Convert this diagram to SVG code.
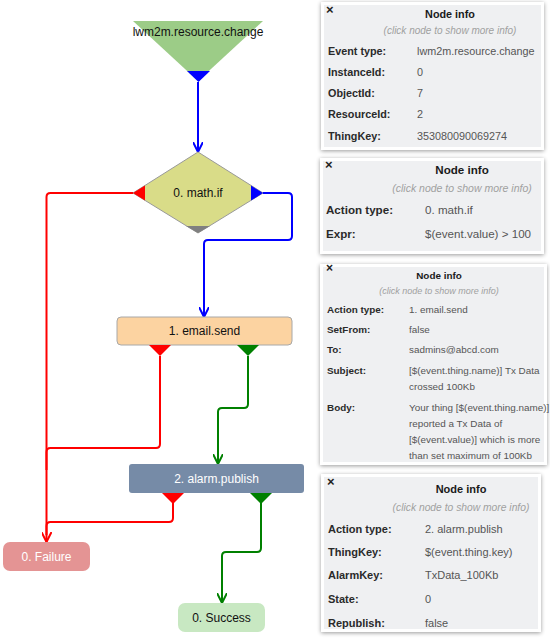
<svg xmlns="http://www.w3.org/2000/svg" width="550" height="644" viewBox="0 0 550 644">
<style>
.lbl{font-family:"Liberation Sans",Arial,sans-serif;font-size:12px;text-anchor:middle;dominant-baseline:central;fill:#111}
.wl{fill:#fff}
.edge{fill:none;stroke-width:2}
.b{stroke:#0000ff}.r{stroke:#ff0000}.g{stroke:#008000}
.panel{fill:#eff0f2;stroke:#fff;stroke-width:3}
.pt{font-family:"Liberation Sans",Arial,sans-serif;fill:#1a1a1a}
.k{font-weight:bold;fill:#2a2a2a}
.v{fill:#555}
.h{font-weight:bold;text-anchor:middle;fill:#1a1a1a}
.c{font-style:italic;text-anchor:middle;fill:#a0a0a0}
.x{font-weight:bold;fill:#222}
</style>
<defs>
<filter id="sh" x="-10%" y="-10%" width="120%" height="120%">
<feGaussianBlur in="SourceAlpha" stdDeviation="2"/>
<feOffset dx="0" dy="1" result="o"/>
<feComponentTransfer><feFuncA type="linear" slope="0.4"/></feComponentTransfer>
<feMerge><feMergeNode/><feMergeNode in="SourceGraphic"/></feMerge>
</filter>
<marker id="ab" viewBox="0 0 10 10" refX="10" refY="5" markerWidth="10" markerHeight="10" markerUnits="userSpaceOnUse" orient="auto"><path d="M0,0 L10,5 L0,10" fill="none" stroke="#0000ff" stroke-width="2"/></marker>
<marker id="ar" viewBox="0 0 10 10" refX="10" refY="5" markerWidth="10" markerHeight="10" markerUnits="userSpaceOnUse" orient="auto"><path d="M0,0 L10,5 L0,10" fill="none" stroke="#ff0000" stroke-width="2"/></marker>
<marker id="ag" viewBox="0 0 10 10" refX="10" refY="5" markerWidth="10" markerHeight="10" markerUnits="userSpaceOnUse" orient="auto"><path d="M0,0 L10,5 L0,10" fill="none" stroke="#008000" stroke-width="2"/></marker>
</defs>

<g id="connectors">
<path class="edge b" d="M198,82 L198,152" marker-end="url(#ab)"/>
<path class="edge b" d="M263,193 L288,193 Q292,193 292,197 L292,236 Q292,240 288,240 L208,240 Q204,240 204,244 L204,317" marker-end="url(#ab)"/>
<path class="edge r" d="M133,193 L50.5,193 Q46.5,193 46.5,197 L46.5,542" marker-end="url(#ar)"/>
<path class="edge r" d="M160,356 L160,444 Q160,448 156,448 L50.5,448 Q46.5,448 46.5,452 L46.5,470"/>
<path class="edge r" d="M173,503 L173,518 Q173,522 169,522 L50.5,522 Q46.5,522 46.5,526 L46.5,535"/>
<path class="edge g" d="M248,356 L248,404 Q248,408 244,408 L222,408 Q218,408 218,412 L218,464" marker-end="url(#ag)"/>
<path class="edge g" d="M261,503 L261,548 Q261,552 257,552 L226,552 Q222,552 222,556 L222,603" marker-end="url(#ag)"/>
</g>

<g id="node-event">
<polygon points="133,21 263,21 198,81" fill="#9ccc87"/>
<polygon points="187,71 210,71 198.5,82" fill="#0000ff"/>
<text class="lbl" x="198" y="32">lwm2m.resource.change</text>
</g>

<g id="node-math-if">
<polygon points="198,152 263,193 198,233 133,193" fill="#d9dc88" stroke="#999" stroke-width="1"/>
<polygon points="133,193 145,185.5 145,200.5" fill="#ff0000"/>
<polygon points="263,193 251,185.5 251,200.5" fill="#0000ff"/>
<polygon points="198,233 186,226 210,226" fill="#808080"/>
<text class="lbl" x="198" y="193">0. math.if</text>
</g>

<g id="node-email-send">
<rect x="117" y="317" width="175" height="28" rx="4" fill="#fcd3a1" stroke="#a8a8a8" stroke-width="1"/>
<polygon points="149,345 171,345 160,356" fill="#ff0000"/>
<polygon points="237,345 259,345 248,356" fill="#008000"/>
<text class="lbl" x="204.5" y="331">1. email.send</text>
</g>

<g id="node-alarm-publish">
<rect x="129" y="464" width="175" height="29" rx="3" fill="#768ba7"/>
<polygon points="162,493 184,493 173,504" fill="#ff0000"/>
<polygon points="250,493 272,493 261,504" fill="#008000"/>
<text class="lbl wl" x="216.5" y="478.5">2. alarm.publish</text>
</g>

<g id="node-failure">
<rect x="3" y="542" width="87" height="29" rx="7" fill="#e49494"/>
<text class="lbl wl" x="46.5" y="556.5">0. Failure</text>
</g>

<g id="node-success">
<rect x="178" y="603" width="87" height="29" rx="7" fill="#c8e8c2"/>
<text class="lbl" x="221.5" y="617.5">0. Success</text>
</g>

<g id="panel-event" class="pt" font-size="10.8">
<rect class="panel" x="322.5" y="3.5" width="220" height="145" filter="url(#sh)"/>
<text class="x" x="326" y="14" font-size="13">×</text>
<text class="h" x="450" y="18">Node info</text>
<text class="c" x="450" y="34" font-size="10">(click node to show more info)</text>
<text class="k" x="328" y="55">Event type:</text><text class="v" x="417" y="55">lwm2m.resource.change</text>
<text class="k" x="328" y="76">InstanceId:</text><text class="v" x="417" y="76">0</text>
<text class="k" x="328" y="97">ObjectId:</text><text class="v" x="417" y="97">7</text>
<text class="k" x="328" y="118">ResourceId:</text><text class="v" x="417" y="118">2</text>
<text class="k" x="328" y="140">ThingKey:</text><text class="v" x="417" y="140">353080090069274</text>
</g>

<g id="panel-math-if" class="pt" font-size="11.6">
<rect class="panel" x="321.5" y="159.5" width="221" height="93" filter="url(#sh)"/>
<text class="x" x="325" y="169" font-size="13">×</text>
<text class="h" x="462" y="174">Node info</text>
<text class="c" x="462" y="192" font-size="10.5">(click node to show more info)</text>
<text class="k" x="326" y="214">Action type:</text><text class="v" x="425" y="214">0. math.if</text>
<text class="k" x="326" y="238">Expr:</text><text class="v" x="425" y="238">$(event.value) &gt; 100</text>
</g>

<g id="panel-email-send" class="pt" font-size="9.9">
<rect class="panel" x="321.5" y="265.5" width="224" height="198" filter="url(#sh)"/>
<text class="x" x="326" y="272" font-size="12">×</text>
<text class="h" x="439" y="279">Node info</text>
<text class="c" x="439" y="294" font-size="9">(click node to show more info)</text>
<text class="k" x="327" y="312.5">Action type:</text><text class="v" x="409" y="312.5">1. email.send</text>
<text class="k" x="327" y="332.5">SetFrom:</text><text class="v" x="409" y="332.5">false</text>
<text class="k" x="327" y="352.5">To:</text><text class="v" x="409" y="352.5">sadmins@abcd.com</text>
<text class="k" x="327" y="373.5">Subject:</text><text class="v" x="409" y="373.5">[$(event.thing.name)] Tx Data</text>
<text class="v" x="409" y="389.5">crossed 100Kb</text>
<text class="k" x="327" y="410.5">Body:</text><text class="v" x="409" y="410.5">Your thing [$(event.thing.name)]</text>
<text class="v" x="409" y="426.5">reported a Tx Data of</text>
<text class="v" x="409" y="442.5">[$(event.value)] which is more</text>
<text class="v" x="409" y="458.5">than set maximum of 100Kb</text>
</g>

<g id="panel-alarm-publish" class="pt" font-size="11">
<rect class="panel" x="322.5" y="475.5" width="217" height="155" filter="url(#sh)"/>
<text class="x" x="327" y="486" font-size="13">×</text>
<text class="h" x="461" y="493">Node info</text>
<text class="c" x="461" y="511" font-size="10.3">(click node to show more info)</text>
<text class="k" x="328" y="533">Action type:</text><text class="v" x="425" y="533">2. alarm.publish</text>
<text class="k" x="328" y="556">ThingKey:</text><text class="v" x="425" y="556">$(event.thing.key)</text>
<text class="k" x="328" y="579">AlarmKey:</text><text class="v" x="425" y="579">TxData_100Kb</text>
<text class="k" x="328" y="603">State:</text><text class="v" x="425" y="603">0</text>
<text class="k" x="328" y="627">Republish:</text><text class="v" x="425" y="627">false</text>
</g>
</svg>
